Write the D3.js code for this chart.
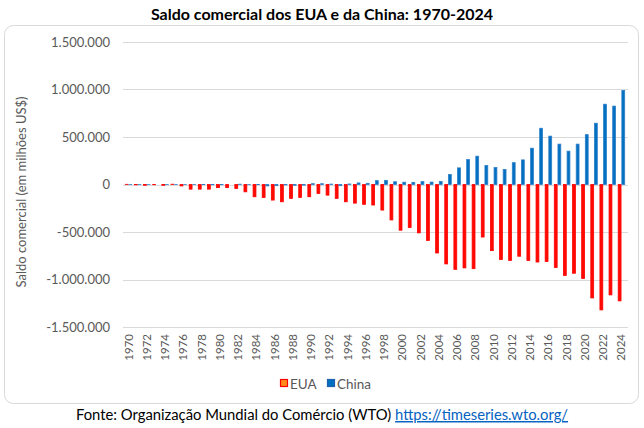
<!DOCTYPE html>
<html>
<head>
<meta charset="utf-8">
<title>Saldo comercial dos EUA e da China</title>
<style>
  html, body {
    margin: 0;
    padding: 0;
    background: #fff;
  }
  svg {
    display: block;
    font-family: Lato, "Open Sans", sans-serif;
  }
  .grid line {
    stroke: #d9d9d9;
    stroke-width: 1px;
  }
  .tick text {
    fill: #595959;
  }
</style>
</head>
<body>
<svg></svg>

<script src="https://d3js.org/d3.v7.min.js"></script>
<script>
  // anos (categorias)
  const years = [
    1970, 1971, 1972, 1973, 1974, 1975, 1976, 1977, 1978, 1979,
    1980, 1981, 1982, 1983, 1984, 1985, 1986, 1987, 1988, 1989,
    1990, 1991, 1992, 1993, 1994, 1995, 1996, 1997, 1998, 1999,
    2000, 2001, 2002, 2003, 2004, 2005, 2006, 2007, 2008, 2009,
    2010, 2011, 2012, 2013, 2014, 2015, 2016, 2017, 2018, 2019,
    2020, 2021, 2022, 2023, 2024
  ];

  // saldo comercial, milhoes de US$
  const eua = [
    2000, -3000, -8000, -2000, -8000, 3000, -15000, -49000, -49000, -49000,
    -33000, -33000, -42000, -77000, -129000, -136000, -164000, -182000, -146000, -136000,
    -129000, -94000, -112000, -146000, -182000, -196000, -209000, -216000, -269000, -373000,
    -481000, -453000, -509000, -589000, -721000, -836000, -893000, -878000, -886000, -553000,
    -696000, -790000, -800000, -755000, -800000, -816000, -811000, -874000, -958000, -934000,
    -990000, -1194000, -1320000, -1162000, -1225000
  ];

  const china = [
    -100, 100, 500, 0, -800, -200, 300, 600, -1100, -2000,
    -1900, 0, 3000, 800, -1300, -14900, -12000, -3800, -7800, -6600,
    8700, 8100, 4400, -12200, 5400, 16700, 12200, 40400, 43500, 29200,
    24100, 22500, 30400, 25500, 32100, 105000, 175000, 263000, 298000, 200000,
    178000, 158000, 230000, 259000, 382000, 592000, 509000, 425000, 351000, 425000,
    525000, 645000, 845000, 825000, 990000
  ];

  const yTicks = [-1500000, -1000000, -500000, 0, 500000, 1000000, 1500000];
  const xTickYears = years.filter(y => y % 2 === 0);

  const seriesNames = ["EUA", "China"];

  const width = 644;
  const height = 428;

  const svg = d3.select("svg")
    .attr("width", width)
    .attr("height", height);

  // caixa do grafico
  svg.append("rect")
    .attr("x", 4.5)
    .attr("y", 25.5)
    .attr("width", 634)
    .attr("height", 378)
    .attr("rx", 9)
    .attr("fill", "#fff")
    .attr("stroke", "#d9d9d9");

  svg.append("text")
    .attr("x", 322)
    .attr("y", 20)
    .attr("text-anchor", "middle")
    .attr("font-size", "16px")
    .attr("font-weight", "bold")
    .attr("fill", "#000")
    .text("Saldo comercial dos EUA e da China: 1970-2024");

  const x = d3.scaleBand()
    .domain(years)
    .range([124, 626])
    .paddingInner(0.2)
    .paddingOuter(0.1);

  const xSub = d3.scaleBand()
    .domain(seriesNames)
    .range([0, x.bandwidth()]);

  const y = d3.scaleLinear()
    .domain([-1500000, 1500000])
    .range([327, 42]);

  const ptBR = d3.formatLocale({
    decimal: ",",
    thousands: ".",
    grouping: [3],
    currency: ["", ""],
    minus: "-"
  });
  const fmt = ptBR.format(",d");

  // grade
  svg.append("g")
    .attr("class", "grid")
    .selectAll("line")
    .data(yTicks)
    .join("line")
    .attr("x1", 123)
    .attr("x2", 628)
    .attr("y1", d => Math.round(y(d)) + 0.5)
    .attr("y2", d => Math.round(y(d)) + 0.5);

  // eixo y
  const yAxis = svg.append("g")
    .attr("transform", "translate(113,0)")
    .call(d3.axisLeft(y).tickValues(yTicks).tickFormat(fmt).tickSize(0).tickPadding(3));
  yAxis.select(".domain").remove();
  yAxis.selectAll("text").attr("font-size", "13px").attr("font-family", "Lato, sans-serif");

  // eixo x
  const xAxis = svg.append("g")
    .attr("transform", "translate(0,334)")
    .call(d3.axisBottom(x).tickValues(xTickYears).tickSize(0).tickPadding(0));
  xAxis.select(".domain").remove();
  xAxis.selectAll("text")
    .attr("font-size", "11.5px")
    .attr("font-family", "Lato, sans-serif")
    .attr("text-anchor", "end")
    .attr("dy", null)
    .attr("y", 0)
    .attr("transform", "rotate(-90) translate(0,4)");

  // barras
  const rows = years.map((yr, i) => ({ year: yr, EUA: eua[i], China: china[i] }));

  const colors = {
    EUA: { fill: "#ff0a00", stroke: "#ff0000" },
    China: { fill: "#0070c0", stroke: "#2f7fca" }
  };

  const gBars = svg.append("g");
  seriesNames.forEach(name => {
    gBars.append("g")
      .selectAll("rect")
      .data(rows)
      .join("rect")
      .attr("x", d => x(d.year) + xSub(name) + 0.4)
      .attr("width", xSub.bandwidth() - 0.8)
      .attr("y", d => Math.min(y(0), y(d[name])))
      .attr("height", d => Math.abs(y(d[name]) - y(0)))
      .attr("fill", colors[name].fill)
      .attr("stroke", colors[name].stroke)
      .attr("stroke-width", 0.8);
  });

  // legenda
  const legend = svg.append("g").attr("transform", "translate(280,384)");
  const legendX = { EUA: 0, China: 47 };
  seriesNames.forEach(name => {
    const g = legend.append("g").attr("transform", `translate(${legendX[name]},0)`);
    g.append("rect")
      .attr("x", 0.5)
      .attr("y", -4.5)
      .attr("width", 7)
      .attr("height", 7)
      .attr("fill", name === "EUA" ? "#ff8c1a" : "#0070c0")
      .attr("stroke", name === "EUA" ? "#ff0000" : "#1f5fb0")
      .attr("stroke-width", 1.2);
    g.append("text")
      .attr("x", 10)
      .attr("y", 0)
      .attr("dy", "0.35em")
      .attr("font-size", "13.5px")
      .attr("fill", "#595959")
      .text(name);
  });

  // titulo do eixo y
  svg.append("text")
    .attr("transform", "translate(26,192) rotate(-90)")
    .attr("text-anchor", "middle")
    .attr("font-size", "13px")
    .attr("fill", "#595959")
    .text("Saldo comercial (em milhões US$)");

  // fonte
  const src = svg.append("text")
    .attr("x", 322)
    .attr("y", 420)
    .attr("text-anchor", "middle")
    .attr("font-size", "14.8px")
    .attr("fill", "#000");
  src.append("tspan").text("Fonte: Organização Mundial do Comércio (WTO) ");
  src.append("tspan")
    .attr("fill", "#0563c1")
    .attr("text-decoration", "underline")
    .text("https://timeseries.wto.org/");
</script>
</body>
</html>
